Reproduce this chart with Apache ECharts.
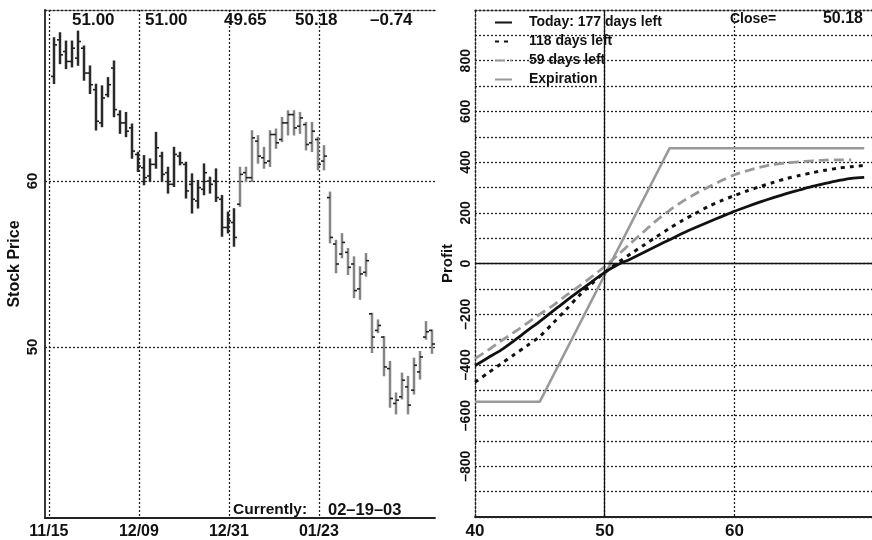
<!DOCTYPE html>
<html><head><meta charset="utf-8">
<script src="https://cdn.jsdelivr.net/npm/echarts@6/dist/echarts.min.js"></script>
<style>html,body{margin:0;padding:0;background:#fff}#c{width:872px;height:540px}</style>
</head><body><div id="c"></div>
<script>
// ---------- left chart: daily OHLC ----------
const dates = ['11/15','11/18','11/19','11/20','11/21','11/22','11/25','11/26','11/27','11/29',
  '12/02','12/03','12/04','12/05','12/06','12/09','12/10','12/11','12/12','12/13',
  '12/16','12/17','12/18','12/19','12/20','12/23','12/24','12/26','12/27','12/30',
  '12/31','01/02','01/03','01/06','01/07','01/08','01/09','01/10','01/13','01/14',
  '01/15','01/16','01/17','01/21','01/22','01/23','01/24','01/27','01/28','01/29',
  '01/30','01/31','02/03','02/04','02/05','02/06','02/07','02/10','02/11','02/12',
  '02/13','02/14','02/18','02/19'];
const highs = [68.6,68.9,68.4,68.4,69.0,68.1,66.9,65.8,65.7,66.2,67.2,64.2,64.1,63.4,61.7,61.5,
  61.3,62.9,61.7,60.8,62.0,61.7,61.1,60.4,60.0,61.0,60.2,60.7,59.1,58.1,58.3,
  60.8,60.8,63.0,62.7,62.0,63.0,63.1,63.8,64.2,64.2,64.1,63.5,63.5,62.6,62.1,
  59.3,56.4,56.8,55.9,55.4,54.8,55.6,52.0,51.6,50.6,49.1,47.2,48.4,48.2,49.3,49.7,51.5,51.00];
const lows = [65.9,67.1,66.8,66.9,67.0,66.1,65.3,63.1,63.3,65.1,63.9,62.9,62.7,61.4,60.6,59.8,
  60.0,60.8,60.0,59.3,59.7,61.0,59.0,58.1,58.4,59.2,59.3,58.8,56.7,56.9,56.1,
  58.5,60.0,60.0,61.1,60.8,60.9,62.0,62.4,62.8,62.8,62.9,61.9,61.8,60.7,60.7,
  56.3,54.5,55.4,54.4,53.0,52.9,54.3,49.7,50.9,48.3,46.4,46.0,46.9,46.0,47.2,48.1,50.5,49.65];
const opens = [66.3,68.5,67.8,67.2,67.4,68.0,66.5,65.5,63.5,65.2,66.8,64.0,63.5,63.2,61.6,60.8,
  60.3,61.0,61.5,60.5,59.8,61.5,61.0,59.8,58.8,59.5,60.0,60.0,58.9,57.2,57.5,
  58.6,60.5,60.2,62.4,61.4,61.2,62.8,62.5,63.5,64.0,63.3,63.4,62.3,62.5,61.2,
  59.0,56.2,55.6,55.7,55.0,53.5,54.5,52.0,51.0,50.6,48.7,46.6,47.0,47.6,47.4,48.5,50.6,51.00];
const closes = [68.2,67.6,67.2,68.0,68.4,66.5,65.8,63.6,65.0,65.8,64.3,63.5,63.0,61.8,60.9,60.2,
  61.0,62.0,60.4,59.8,61.6,61.1,59.4,58.9,59.6,60.5,59.8,59.0,57.2,57.6,56.6,
  60.4,60.2,62.6,61.5,61.1,62.8,62.3,63.5,64.0,63.2,63.8,62.2,63.0,61.0,61.5,
  56.6,55.0,56.3,54.8,53.4,54.4,55.2,50.6,51.3,48.8,46.9,46.8,48.0,46.5,48.9,49.4,50.92,50.18];
const labelDates = ['11/15','12/09','12/31','01/23'];
const priceTicks = [50, 60];
const headerValues = ['51.00','51.00','49.65','50.18','–0.74'];
const currentLabel = 'Currently:';
const currentDate = '02–19–03';

// ---------- right chart: profit curves ----------
const prices = [40,41,42,43,44,45,46,47,48,49,50,51,52,53,54,55,56,57,58,59,60,61,62,63,64,65,66,67,68,69,70];
const profitToday = [-403,-372,-342,-305,-266,-228,-188,-148,-110,-72,-35,-5,18,43,69,94,119,142,164,185,206,225,243,260,276,290,304,316,327,336,340];
const profit118 = [-468,-432,-396,-360,-325,-287,-236,-183,-128,-80,-35,3,38,72,106,139,170,198,225,248,268,287,304,320,335,347,358,368,376,382,387];
const profit59 = [-375,-342,-306,-272,-236,-200,-166,-127,-90,-52,-12,33,80,125,170,210,245,275,302,327,350,366,380,391,397,401,405,408,409,409];
const expPrices = [40,45,55,70];
const profitExp = [-545,-545,455,455];
const seriesNames = ['Today: 177 days left','118 days left','59 days left','Expiration'];
const priceAxisTicks = [40,50,60];
const closeLabel = 'Close=';
const closeValue = '50.18';

const FONT = '"Liberation Sans",Arial,sans-serif';
const DASH = {color:'#222', width:1.3, type:[2,2]};
const LABEL_OFFSET = 0.85;
const fixMinus = s => String(s).replace('-', '–');

const ohlc = dates.map((d,i)=>[i, opens[i], highs[i], lows[i], closes[i]]);
const tickPos = labelDates.map(d => dates.indexOf(d) - LABEL_OFFSET);
const pair = (xs, ys) => ys.map((y,i)=>[xs[i], y]);

const chart = echarts.init(document.getElementById('c'), null, {renderer:'canvas'});
chart.setOption({
  animation:false,
  textStyle:{fontFamily:FONT},
  grid:[
    {left:45, top:10, width:390, height:511},
    {left:475, top:10, width:397, height:510}
  ],
  xAxis:[
    {type:'value', gridIndex:0, min:-1.5, max:63.5,
      axisLine:{onZero:false, lineStyle:{color:'#222', width:1.8}},
      axisTick:{show:false, customValues:tickPos},
      axisLabel:{customValues:tickPos, margin:6, color:'#111', fontFamily:FONT, fontWeight:'bold', fontSize:16,
        formatter:v=>dates[Math.round(v+LABEL_OFFSET)]},
      splitLine:{show:true, lineStyle:DASH}},
    {type:'value', gridIndex:0, position:'top', min:-1.5, max:63.5,
      axisLine:{show:true, onZero:false, lineStyle:DASH}, axisTick:{show:false}, axisLabel:{show:false}, splitLine:{show:false}},
    {type:'value', gridIndex:1, min:40, max:70.6,
      axisLine:{onZero:false, lineStyle:{color:'#222', width:1.8}},
      axisTick:{show:false, customValues:priceAxisTicks},
      axisLabel:{customValues:priceAxisTicks, margin:6, color:'#111', fontFamily:FONT, fontWeight:'bold', fontSize:17},
      splitLine:{show:true, lineStyle:DASH}},
    {type:'value', gridIndex:1, position:'top', min:40, max:70.6,
      axisLine:{show:true, onZero:false, lineStyle:DASH}, axisTick:{show:false}, axisLabel:{show:false}, splitLine:{show:false}}
  ],
  yAxis:[
    {type:'value', gridIndex:0, min:39.7, max:70.3,
      name:'Stock Price', nameLocation:'middle', nameGap:22, nameRotate:90,
      nameTextStyle:{fontFamily:FONT, fontWeight:'bold', fontSize:16, color:'#111', verticalAlign:'bottom'},
      axisLine:{show:true, onZero:false, lineStyle:{color:'#222', width:1.8}},
      axisTick:{show:false, customValues:priceTicks},
      axisLabel:{customValues:priceTicks, rotate:90, margin:5, color:'#111', fontFamily:FONT, fontWeight:'bold', fontSize:15},
      splitLine:{show:true, lineStyle:DASH}},
    {type:'value', gridIndex:1, min:-1000, max:1000, interval:100,
      name:'Profit', nameLocation:'middle', nameGap:20, nameRotate:90,
      nameTextStyle:{fontFamily:FONT, fontWeight:'bold', fontSize:15, color:'#111', verticalAlign:'bottom'},
      axisLine:{show:true, onZero:false, lineStyle:DASH},
      axisTick:{show:false},
      axisLabel:{rotate:90, margin:2, color:'#111', fontFamily:FONT, fontWeight:'bold', fontSize:14,
        formatter:v=> (v % 200 === 0 && Math.abs(v) < 1000) ? fixMinus(v) : ''},
      splitLine:{show:true, lineStyle:DASH}}
  ],
  legend:{
    orient:'vertical', left:489, top:8, itemWidth:17, itemHeight:4, itemGap:0,
    data:seriesNames,
    itemStyle:{opacity:0},
    textStyle:{fontFamily:FONT, fontWeight:'bold', fontSize:14, color:'#111', lineHeight:19, padding:[0,0,0,12]}
  },
  graphic:[
    ...headerValues.map((t,i)=>({type:'text', left:[72,145,224,295,370][i], top:12,
      style:{text:t, font:'bold 17px '+FONT, fill:'#111'}})),
    {type:'text', left:233, top:502, style:{text:currentLabel, font:'bold 15.5px '+FONT, fill:'#111'}},
    {type:'text', left:328, top:502, style:{text:currentDate, font:'bold 16.5px '+FONT, fill:'#111'}},
    {type:'text', left:730, top:12, style:{text:closeLabel, font:'bold 14px '+FONT, fill:'#111'}},
    {type:'text', right:9, top:11, style:{text:closeValue, font:'bold 16px '+FONT, fill:'#111'}}
  ],
  series:[
    {type:'custom', xAxisIndex:0, yAxisIndex:0, data:ohlc, encode:{x:0, y:[1,2,3,4]},
      renderItem:(params, api)=>{
        const x = api.value(0);
        const ph = api.coord([x, api.value(2)]), pl = api.coord([x, api.value(3)]);
        const po = api.coord([x, api.value(1)]), pc = api.coord([x, api.value(4)]);
        const col = x > 30 ? '#858585' : '#2a2a2a';
        return {type:'group', children:[
          {type:'line', shape:{x1:ph[0], y1:ph[1]-1, x2:pl[0], y2:pl[1]+1}, style:{stroke:col, lineWidth:2.5}},
          {type:'line', shape:{x1:po[0]-3, y1:po[1], x2:po[0], y2:po[1]}, style:{stroke:'#222', lineWidth:1.6}},
          {type:'line', shape:{x1:pc[0], y1:pc[1], x2:pc[0]+3, y2:pc[1]}, style:{stroke:'#222', lineWidth:1.6}}
        ]};
      }},
    {name:seriesNames[0], type:'line', xAxisIndex:2, yAxisIndex:1, data:pair(prices, profitToday),
      showSymbol:false, symbol:'none', smooth:0.3, lineStyle:{color:'#111', width:2.8}, itemStyle:{color:'#111'},
      z:5,
      markLine:{silent:true, symbol:'none', label:{show:false}, animation:false,
        lineStyle:{color:'#111', type:'solid', width:1.3},
        data:[{xAxis:50},{yAxis:0}]}},
    {name:seriesNames[1], type:'line', xAxisIndex:2, yAxisIndex:1, data:pair(prices, profit118),
      showSymbol:false, symbol:'none', smooth:0.3, lineStyle:{color:'#111', width:3, type:[4,5]}, itemStyle:{color:'#111'}, z:4},
    {name:seriesNames[2], type:'line', xAxisIndex:2, yAxisIndex:1, data:pair(prices.slice(0, profit59.length), profit59),
      showSymbol:false, symbol:'none', smooth:0.3, lineStyle:{color:'#999', width:2.8, type:[10,5]}, itemStyle:{color:'#999'}, z:3},
    {name:seriesNames[3], type:'line', xAxisIndex:2, yAxisIndex:1, data:pair(expPrices, profitExp),
      showSymbol:false, symbol:'none', lineStyle:{color:'#999', width:2.5}, itemStyle:{color:'#999'}, z:3}
  ]
});
</script></body></html>
